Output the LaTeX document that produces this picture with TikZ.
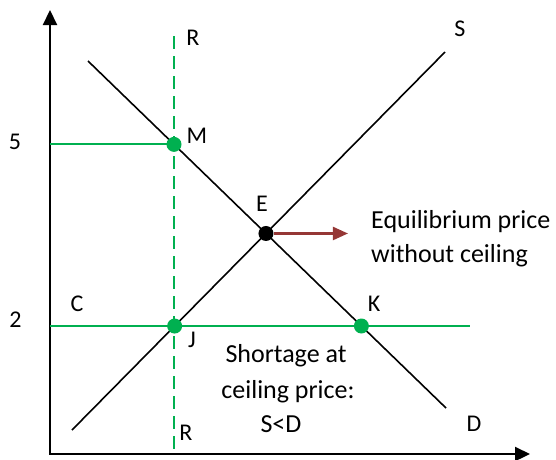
\documentclass[tikz,border=0pt]{standalone}
\usepackage{fontspec}
\setmainfont{Carlito}
\usetikzlibrary{arrows.meta}
\definecolor{grn}{HTML}{00B050}
\definecolor{dred}{HTML}{953735}
\begin{document}
\begin{tikzpicture}[x=1pt,y=-1pt,
 lbl/.style={inner sep=0pt, anchor=base, font=\fontsize{24}{28}\selectfont},
 note/.style={inner sep=0pt, anchor=base west, font=\fontsize{26}{30}\selectfont},
 notec/.style={inner sep=0pt, anchor=base, font=\fontsize{26}{30}\selectfont},
 curve/.style={line width=1.6pt, black},
 axisline/.style={line width=2.2pt, {Triangle[length=15pt,width=14pt]}-{Triangle[length=15pt,width=14pt]}},
 gline/.style={line width=2.2pt, grn},
 gdashed/.style={line width=2.2pt, grn, dash pattern=on 13pt off 7pt},
 gdot/.style={circle, fill=grn, minimum size=15pt, inner sep=0pt},
 bdot/.style={circle, fill=black, minimum size=15pt, inner sep=0pt},
 redarrow/.style={line width=2.2pt, dred, -{Triangle[length=15pt,width=13pt]}}]

\useasboundingbox (0,0) rectangle (556,459);

% axes
\coordinate (O) at (50,454);
\coordinate (ytip) at (50,10);
\coordinate (xtip) at (530,454);
\draw[axisline] (ytip) -- (O) -- (xtip);

% key coordinates
\coordinate (S1) at (72,430);
\coordinate (S2) at (445,52);
\coordinate (D1) at (88,61);
\coordinate (D2) at (446,408);
\coordinate (R1) at (174,36);
\coordinate (R2) at (174,454);
\coordinate (C1) at (50,326);
\coordinate (C2) at (470,326);
\coordinate (Mp) at (intersection of D1--D2 and R1--R2);
\coordinate (Jp) at (intersection of S1--S2 and C1--C2);
\coordinate (Kp) at (intersection of D1--D2 and C1--C2);
\coordinate (Ep) at (intersection of S1--S2 and D1--D2);
\coordinate (P5) at (Mp -| O);

% green lines
\draw[gdashed] (R1) -- (R2);
\draw[gline] (C1) -- (C2);
\draw[gline] (P5) -- (Mp);

% supply and demand
\draw[curve] (S1) -- (S2);
\draw[curve] (D1) -- (D2);

% dots
\node[gdot] (M) at (Mp) {};
\node[gdot] (J) at (Jp) {};
\node[gdot] (K) at (Kp) {};
\node[bdot] (E) at (Ep) {};

% arrow
\path (E) ++(82,0) coordinate (A2);
\draw[redarrow] (E) -- (A2);

% labels
\node[lbl] (l5) at (15,149) {5};
\node[lbl] (l2) at (15.5,327) {2};
\node[lbl] (lRt) at (193,45) {R};
\node[lbl] (lRb) at (186,440) {R};
\node[lbl] (lM) at (197,143) {M};
\node[lbl] (lE) at (262,211) {E};
\node[lbl] (lS) at (460,36) {S};
\node[lbl] (lD) at (474,431) {D};
\node[lbl] (lC) at (77,311) {C};
\node[lbl] (lK) at (374,311) {K};
\node[lbl] (lJ) at (192,347) {J};

\node[note] (eq1) at (371,228) {Equilibrium price};
\node[note] (eq2) at (371,262) {without ceiling};
\node[notec] (sh1) at (286,362) {Shortage at};
\node[notec] (sh2) at (288,398) {ceiling price:};
\node[notec] (sh3) at (281,432) {S<D};
\end{tikzpicture}
\end{document}
